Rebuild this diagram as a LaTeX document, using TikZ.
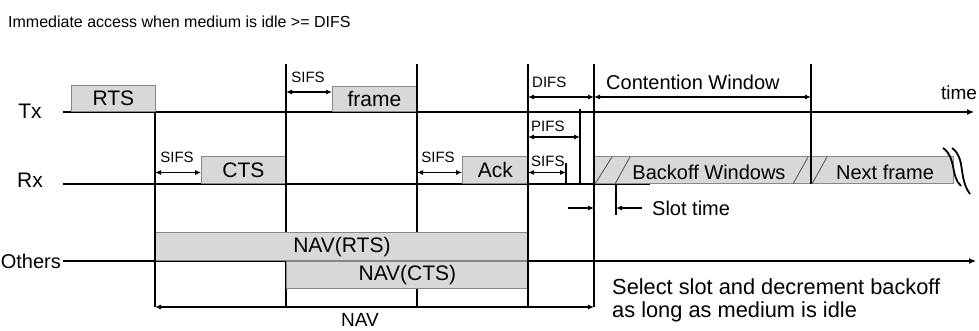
\documentclass[tikz,border=0pt]{standalone}
\usepackage{fontspec}
\setmainfont{Liberation Sans}
\usetikzlibrary{arrows.meta, positioning}
\definecolor{boxgray}{RGB}{216,216,216}
\definecolor{edgegray}{RGB}{135,135,135}
\tikzset{
    framebox/.style={draw=edgegray, fill=boxgray, line width=0.8pt, inner sep=0pt, anchor=south west},
    span/.style={{Latex[length=6pt,width=5pt]}-{Latex[length=6pt,width=5pt]}, line width=1.1pt},
    markline/.style={line width=1.3pt},
    axis/.style={line width=1.1pt},
    small/.style={font=\fontsize{15}{17}\selectfont, inner sep=0pt},
    big/.style={font=\fontsize{21}{24}\selectfont, inner sep=0pt}
}

\begin{document}
\begin{tikzpicture}[x=1pt, y=-1pt]
    \useasboundingbox (0,0) rectangle (979,331);
    \node[anchor=west, inner sep=0pt, font=\fontsize{16}{18}\selectfont] (title) at (8,22) {Immediate access when medium is idle >= DIFS};

    % stations
    \node[big] (tx) at (30,111) {Tx};
    \node[big] (rx) at (30,180) {Rx};
    \node[big, anchor=east, font=\fontsize{20}{24}\selectfont] (others) at (61,261) {Others};
    \coordinate (txend) at (974,112);
    \coordinate (rxend) at (650,184);
    \coordinate (othersend) at (976,261);
    \draw[axis, -{Latex[length=7pt,width=6pt]}] (63,112) -- (txend);
    \draw[axis] (63,184) -- (rxend);
    \draw[axis, -{Latex[length=7pt,width=6pt]}] (others.east) ++(2,0) -- (othersend);
    \node[big, font=\fontsize{19}{22}\selectfont] (time) at (959,93) {time};

    % frames
    \node[framebox, big, minimum width=84pt, minimum height=26pt] (rts) at (71,112) {RTS};
    \node[framebox, big, minimum width=84pt, minimum height=25pt] (frame) at (332,112) {frame};
    \node[framebox, big, minimum width=84pt, minimum height=27pt] (cts) at (201,184) {CTS};
    \node[framebox, big, minimum width=66pt, minimum height=27pt] (ack) at (462,184) {Ack};
    \node[framebox, minimum width=217pt, minimum height=27pt] (backoff) at (594,184) {};
    \node[framebox, minimum width=142pt, minimum height=27pt] (next) at (811,184) {};
    \foreach \a/\b in {595/612, 615/630, 793/808, 812/827}
        \draw[edgegray!60!black, line width=0.8pt] (\a,184) -- (\b,157);
    \node[big, font=\fontsize{20}{24}\selectfont] (backofftext) at (709,172) {Backoff Windows};
    \node[big, font=\fontsize{20}{24}\selectfont] (nexttext) at (885,172) {Next frame};
    \draw[line width=1.8pt] (943,148) .. controls (957,158) and (950,176) .. (961,186);
    \draw[line width=1.8pt] (952,148) .. controls (966,158) and (958,178) .. (970,194);

    % time marks behind the NAV boxes
    \foreach \x in {286, 417}
        \draw[markline] (\x,64) -- (\x,307);
    \node[framebox, big, minimum width=373pt, minimum height=28pt] (navrts) at (155,261) {NAV(RTS)};
    \node[framebox, big, minimum width=242pt, minimum height=27pt, anchor=north west] (navcts) at (286,261) {NAV(CTS)};
    \foreach \x/\top in {155/112, 528/64, 594/64}
        \draw[markline] (\x,\top) -- (\x,307);
    \draw[markline] (811,64) -- (811,184);
    \draw[markline] (580,109) -- (580,184);
    \draw[markline] (566,163) -- (566,184);
    \draw[markline] (616,184) -- (616,215);

    % intervals
    \draw[span] (286,92) -- (frame.west |- 0,92);
    \node[small] (sifsa) at (308,77) {SIFS};
    \draw[span] (155,172.5) -- (cts.west |- 0,172.5);
    \node[small] (sifsb) at (177,157) {SIFS};
    \draw[span] (417,172.5) -- (ack.west |- 0,172.5);
    \node[small] (sifsc) at (438,157) {SIFS};
    \draw[span] (528,172.5) -- (566,172.5);
    \node[small, anchor=west] (sifsd) at (531,161) {SIFS};
    \draw[span] (528,137) -- (580,137);
    \node[small, anchor=west] (pifs) at (531,126) {PIFS};
    \draw[span] (528,97) -- (594,97);
    \node[small, anchor=west] (difs) at (532,82) {DIFS};
    \draw[span] (594,97) -- (811,97);
    \node[big, anchor=west, font=\fontsize{20}{24}\selectfont] (cw) at (606,82) {Contention Window};
    \draw[span] (155,307) -- (594,307);
    \node[big, font=\fontsize{19}{22}\selectfont] (nav) at (360,320) {NAV};

    % slot time
    \draw[line width=1.1pt, -{Latex[length=6pt,width=5pt]}] (568,208) -- (594,208);
    \draw[line width=1.1pt, -{Latex[length=6pt,width=5pt]}] (642,208) -- (616,208);
    \node[big, anchor=west, font=\fontsize{20}{24}\selectfont] (slot) at (652,208) {Slot time};
    \node[anchor=north west, align=left, inner sep=0pt, font=\fontsize{21.8}{23}\selectfont] (select) at (612,279)
        {Select slot and decrement backoff\\as long as medium is idle};
\end{tikzpicture}
\end{document}
